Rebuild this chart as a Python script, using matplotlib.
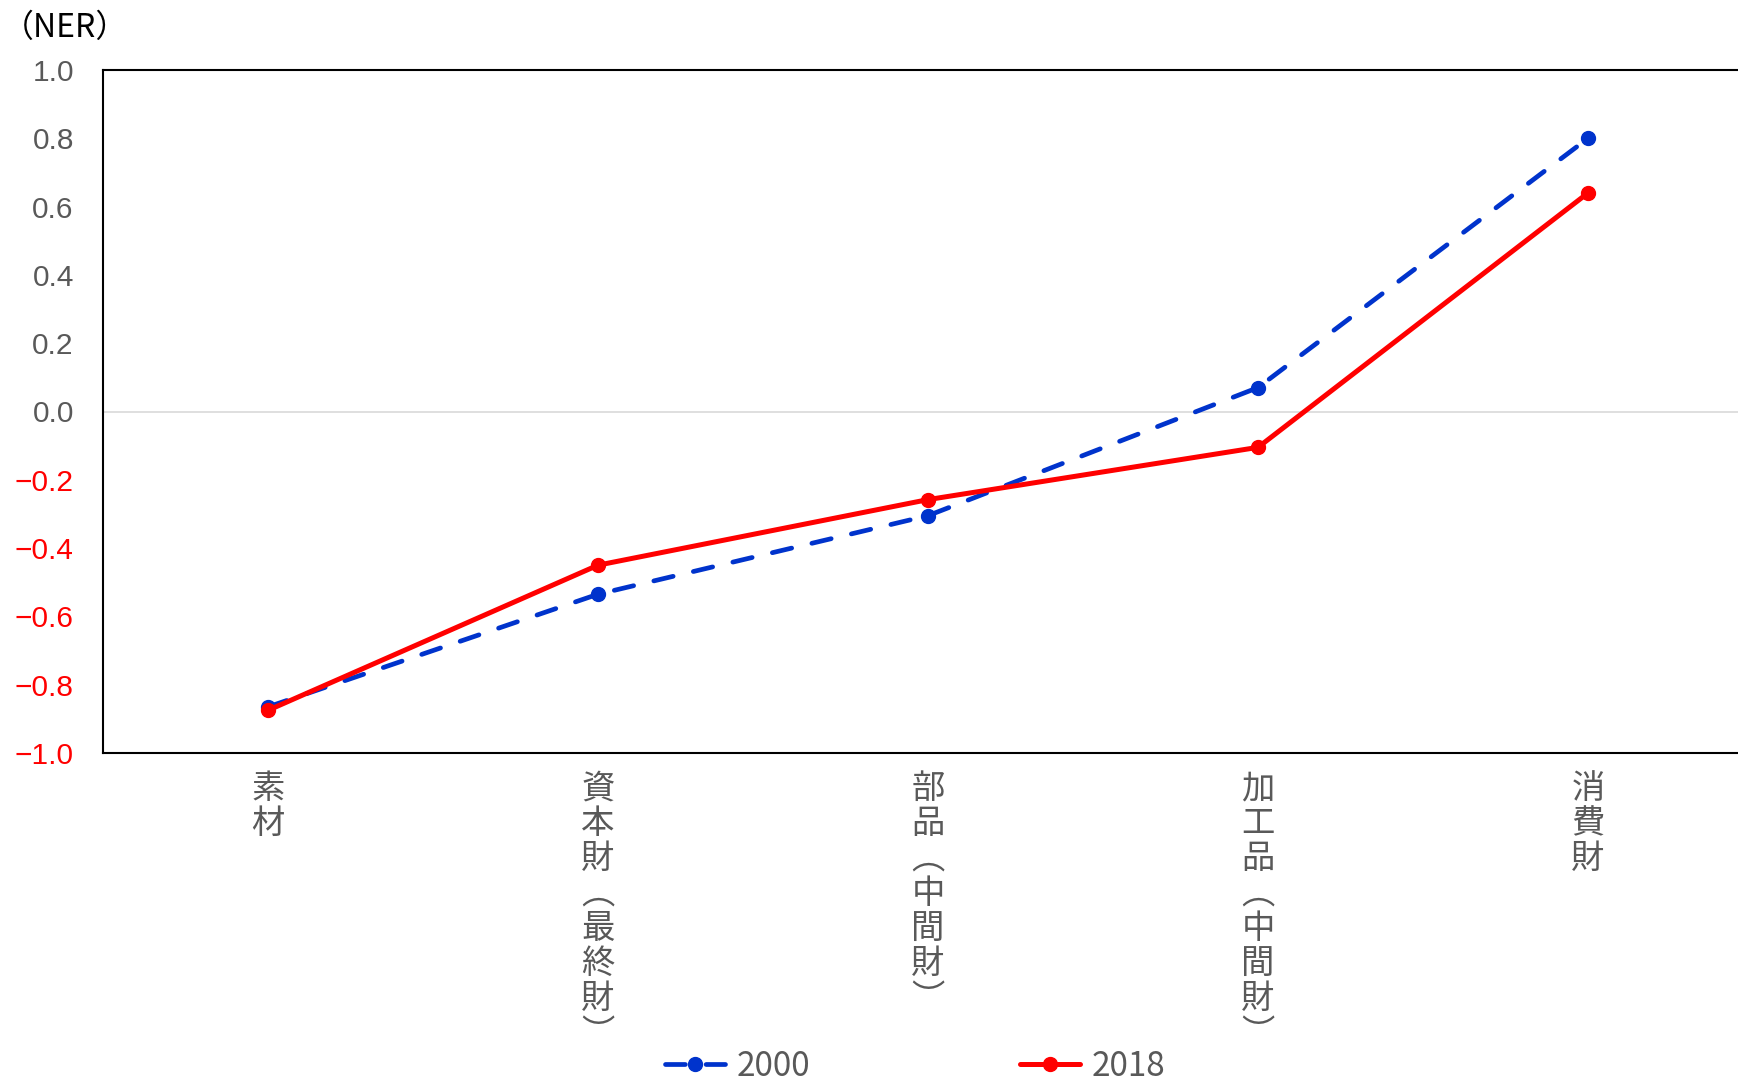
import matplotlib.pyplot as plt
import numpy as np

# NER by stage of processing
categories = ['素材', '資本財(最終財)', '部品(中間財)', '加工品(中間財)', '消費財']
ner_2000 = [-0.865, -0.535, -0.305, 0.07, 0.80]
ner_2018 = [-0.875, -0.45, -0.258, -0.105, 0.64]
yticks = [-1.0, -0.8, -0.6, -0.4, -0.2, 0.0, 0.2, 0.4, 0.6, 0.8, 1.0]

blue = '#0033CC'
red = '#FF0000'
gray = '#595959'
jp = ['Noto Sans CJK JP', 'DejaVu Sans']
narrow = ['Liberation Sans Narrow', 'Noto Sans CJK JP', 'DejaVu Sans']

plt.rcParams['font.family'] = ['Liberation Sans', 'Noto Sans CJK JP', 'DejaVu Sans']

fig = plt.figure(figsize=(17.38, 10.87), dpi=100)
ax = fig.add_axes([103/1738, 334/1087, 1650/1738, 683/1087])

x = np.arange(len(categories))
ax.axhline(0, color='#D9D9D9', lw=1.2, zorder=1)
l1, = ax.plot(x, ner_2000, color=blue, lw=3.4, marker='o', ms=10,
              dash_capstyle='round', label='2000', zorder=3)
l1.set_dashes((4.2, 4.4))
ax.plot(x, ner_2018, color=red, lw=3.6, marker='o', ms=10,
        solid_capstyle='round', label='2018', zorder=4)

ax.set_xlim(-0.5, len(categories) - 0.5)
ax.set_ylim(-1.0, 1.0)
ax.set_yticks(yticks)
ax.set_yticklabels([f'{v:.1f}'.replace('-', '\u2212') for v in yticks], fontsize=21.5)
for lab, v in zip(ax.get_yticklabels(), yticks):
    lab.set_color(red if v < 0 else gray)
ax.tick_params(axis='y', length=0, pad=21)

# vertical category labels
vert = [c.replace('(', '\ufe35').replace(')', '\ufe36') for c in categories]
ax.set_xticks(x)
ax.set_xticklabels(['\n'.join(c) for c in vert], fontsize=24, color=gray,
                   family=jp, linespacing=1.0, va='top')
ax.tick_params(axis='x', length=0, pad=13)

for s in ax.spines.values():
    s.set_color('black')
    s.set_linewidth(1.5)

fig.text(2/1738, 1 - 28/1087, '（NER）', fontsize=23, family=jp, color='black',
         ha='left', va='center')

leg = fig.legend(loc='center', bbox_to_anchor=(915/1738, 21/1087), ncol=2,
                 frameon=False, handlelength=1.8, handletextpad=0.35,
                 columnspacing=6.3, borderpad=0.2,
                 prop={'family': narrow, 'size': 24})
for t in leg.get_texts():
    t.set_color(gray)

fig.savefig('out.png', dpi=100)
